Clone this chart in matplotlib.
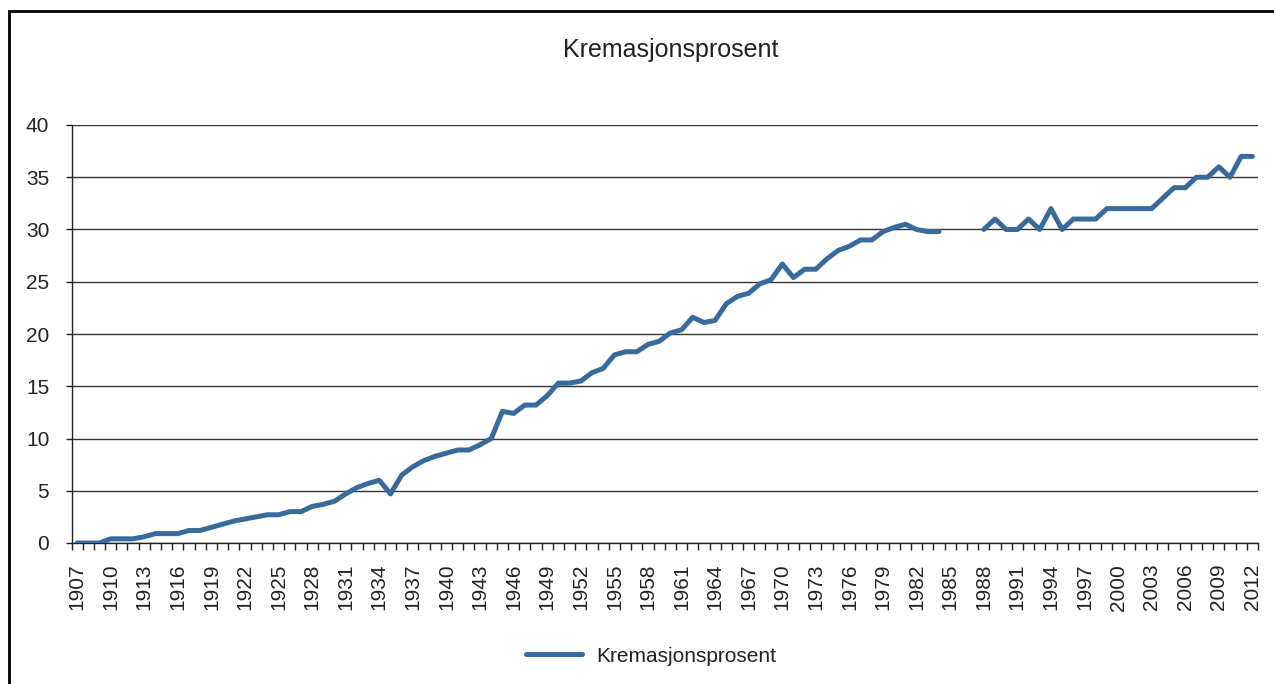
# Kremasjonsprosent 1907-2012, line chart in the old Excel style
import matplotlib
matplotlib.use("Agg")
import matplotlib.pyplot as plt
import numpy as np
from matplotlib.patches import Rectangle
from matplotlib.ticker import FixedLocator

plt.rcParams['font.family'] = ['Liberation Sans', 'DejaVu Sans']

# Data (1985-1987 missing)
years = np.arange(1907, 2013)
percent = [
    0.0, 0.0, 0.0, 0.4, 0.4, 0.4, 0.6, 0.9, 0.9, 0.9,          # 1907-1916
    1.2, 1.2, 1.5, 1.8, 2.1, 2.3, 2.5, 2.7, 2.7, 3.0,          # 1917-1926
    3.0, 3.5, 3.7, 4.0, 4.7, 5.3, 5.7, 6.0, 4.7, 6.5,          # 1927-1936
    7.3, 7.9, 8.3, 8.6, 8.9, 8.9, 9.4, 10.0, 12.6, 12.4,       # 1937-1946
    13.2, 13.2, 14.1, 15.3, 15.3, 15.5, 16.3, 16.7, 18.0, 18.3,  # 1947-1956
    18.3, 19.0, 19.3, 20.1, 20.4, 21.6, 21.1, 21.3, 22.9, 23.6,  # 1957-1966
    23.9, 24.8, 25.2, 26.7, 25.4, 26.2, 26.2, 27.2, 28.0, 28.4,  # 1967-1976
    29.0, 29.0, 29.8, 30.2, 30.5, 30.0, 29.8, 29.8,              # 1977-1984
    None, None, None,                                            # 1985-1987
    30, 31, 30, 30, 31, 30, 32, 30, 31, 31,                      # 1988-1997
    31, 32, 32, 32, 32, 32, 33, 34, 34, 35,                      # 1998-2007
    35, 36, 35, 37, 37,                                          # 2008-2012
]
label_years = years[::3]
y_ticks = [0, 5, 10, 15, 20, 25, 30, 35, 40]

values = np.array([np.nan if v is None else v for v in percent], dtype=float)

W, H = 1274, 684
fig = plt.figure(figsize=(W / 100, H / 100), dpi=100)
ax = fig.add_axes([71.5 / W, 1 - 543 / H, (1258 - 71.5) / W, (543 - 125) / H])

line_color = '#386a9c'
text_color = '#222222'

ax.plot(years, values, color=line_color, linewidth=3.6,
        solid_capstyle='round', solid_joinstyle='round',
        label='Kremasjonsprosent', zorder=3)

# Axes and grid
ax.set_xlim(years[0] - 0.5, years[-1] + 0.5)
ax.set_ylim(0, 40)
ax.set_yticks(y_ticks)
ax.yaxis.grid(True, color='#333333', linewidth=1.0)
ax.set_axisbelow(True)
for side in ['top', 'right']:
    ax.spines[side].set_visible(False)
for side in ['left', 'bottom']:
    ax.spines[side].set_color('#222222')
    ax.spines[side].set_linewidth(1.0)

ax.tick_params(axis='y', direction='out', length=4, width=1,
               colors='#222222', labelcolor=text_color, labelsize=15, pad=12)

ax.set_xticks(label_years)
ax.set_xticklabels([str(y) for y in label_years], rotation=90)
ax.xaxis.set_minor_locator(FixedLocator(np.arange(years[0] - 0.5, years[-1] + 1.0, 1.0)))
ax.tick_params(axis='x', which='major', length=0, labelsize=15,
               labelcolor=text_color, pad=15)
ax.tick_params(axis='x', which='minor', direction='out', length=5, width=1,
               color='#222222')

# Title and legend
fig.text(671 / W, 1 - 50 / H, 'Kremasjonsprosent', ha='center', va='center',
         fontsize=18, color=text_color)
fig.legend(loc='center', bbox_to_anchor=(651 / W, 1 - 656 / H), frameon=False,
           fontsize=15, handlelength=2.7, handletextpad=0.7,
           labelcolor=text_color)

# Outer frame of the chart
fig.patches.append(Rectangle((9 / W, -0.05), 1.1, 1 - 11 / H + 0.05,
                             transform=fig.transFigure, fill=False,
                             edgecolor='black', linewidth=2))

fig.savefig('out.png', dpi=100)
